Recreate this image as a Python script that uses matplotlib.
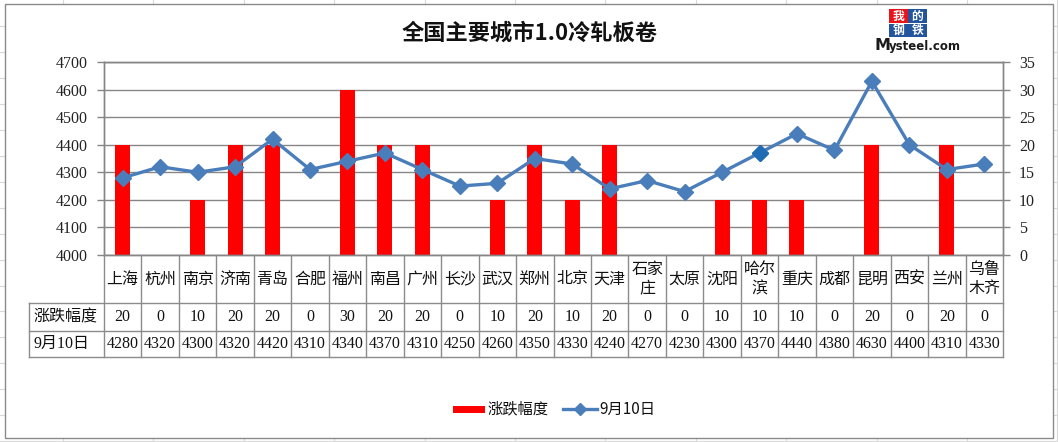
import matplotlib
matplotlib.use("Agg")
import matplotlib.pyplot as plt
from matplotlib.lines import Line2D
from matplotlib.patches import Rectangle
import numpy as np

# ---------------- data ----------------
cities = ["上海", "杭州", "南京", "济南", "青岛", "合肥", "福州", "南昌", "广州", "长沙",
          "武汉", "郑州", "北京", "天津", "石家庄", "太原", "沈阳", "哈尔滨", "重庆", "成都",
          "昆明", "西安", "兰州", "乌鲁木齐"]
change = [20, 0, 10, 20, 20, 0, 30, 20, 20, 0, 10, 20, 10, 20, 0, 0, 10, 10, 10, 0, 20, 0, 20, 0]
price = [4280, 4320, 4300, 4320, 4420, 4310, 4340, 4370, 4310, 4250, 4260, 4350, 4330, 4240,
         4270, 4230, 4300, 4370, 4440, 4380, 4630, 4400, 4310, 4330]
series_names = ["涨跌幅度", "9月10日"]
title = "全国主要城市1.0冷轧板卷"
left_ticks = [4000, 4100, 4200, 4300, 4400, 4500, 4600, 4700]
right_ticks = [0, 5, 10, 15, 20, 25, 30, 35]

# ---------------- layout helpers ----------------
W, H = 1058, 442
def fx(x): return x / W
def fy(y): return 1 - y / H

CJK = ["Noto Sans CJK SC", "DejaVu Sans"]
SERIF = ["Liberation Serif", "Noto Sans CJK SC"]
GRID = "#868686"
TBL = "#8c8c8c"
BLUE = "#4a7ebb"
RED = "#ff0000"

fig = plt.figure(figsize=(W / 100, H / 100), dpi=100)
fig.patch.set_facecolor("white")

# spreadsheet background grid
for k in range(0, 18):
    y = 26 + 25.95 * k
    fig.add_artist(Line2D([0, 1], [fy(y), fy(y)], color="#d9d9d9", lw=0.8, zorder=-3))
for k in range(0, 12):
    x = 63 + 90.4 * k
    fig.add_artist(Line2D([fx(x), fx(x)], [0, 1], color="#d9d9d9", lw=0.8, zorder=-3))
# chart area
fig.add_artist(Rectangle((fx(4.5), fy(438)), fx(1053) - fx(4.5), fy(4) - fy(438),
                         facecolor="white", edgecolor="#8a8a8a", lw=1.0, zorder=-2))

# plot area
L, R, T, B = 104, 1003, 62, 255
ax2 = fig.add_axes([fx(L), fy(B), fx(R) - fx(L), fy(T) - fy(B)])
ax = ax2.twinx()
ax.yaxis.tick_left()
ax.yaxis.set_label_position("left")
ax2.yaxis.tick_right()
ax2.yaxis.set_label_position("right")
ax.set_zorder(ax2.get_zorder() + 1)
ax.patch.set_visible(False)

x = np.arange(len(cities))
ax2.bar(x, change, width=0.4, color=RED, zorder=2)
ax2.set_ylim(0, 35)
ax2.set_yticks(right_ticks)
ax2.set_xlim(-0.5, len(cities) - 0.5)
ax2.yaxis.grid(True, color=GRID, lw=1.0, zorder=0)
ax2.set_axisbelow(True)

ax.plot(x, price, color=BLUE, lw=2.4, marker="D", markersize=8, zorder=3)
ax.plot(x[17], price[17], ls="none", marker="D", markersize=8, color="#1f6cb4", zorder=4)
ax.set_ylim(4000, 4700)
ax.set_yticks(left_ticks)
ax.set_xlim(-0.5, len(cities) - 0.5)

for a in (ax, ax2):
    a.set_xticks([])
    for s in a.spines.values():
        s.set_color(GRID)
        s.set_linewidth(1.0)
    a.tick_params(axis="y", colors=GRID, length=5, width=1.0, pad=6.5)
for lab in ax.get_yticklabels() + ax2.get_yticklabels():
    lab.set_fontfamily(SERIF)
    lab.set_fontsize(11.5)
    lab.set_color("#222222")

# ---------------- data table ----------------
n = len(cities)
cw = (R - L) / n
r0, r1, r2, r3 = 255, 303, 330.5, 357
hdr = 29
lk = dict(color=TBL, lw=1.0, zorder=3)
for i in range(n + 1):
    xx = L + i * cw
    fig.add_artist(Line2D([fx(xx), fx(xx)], [fy(r0), fy(r3)], **lk))
fig.add_artist(Line2D([fx(hdr), fx(hdr)], [fy(r1), fy(r3)], **lk))
for yy in (r1, r2, r3):
    fig.add_artist(Line2D([fx(hdr), fx(R)], [fy(yy), fy(yy)], **lk))

for i, c in enumerate(cities):
    cx = L + (i + 0.5) * cw
    lab = c if len(c) <= 2 else c[:2] + "\n" + c[2:]
    fig.text(fx(cx), fy((r0 + r1) / 2), lab, ha="center", va="center",
             fontfamily=CJK, fontsize=11.5, linespacing=1.2, color="#111111")
    fig.text(fx(cx), fy((r1 + r2) / 2), str(change[i]), ha="center", va="center",
             fontfamily=SERIF, fontsize=11.5, color="#111111")
    fig.text(fx(cx), fy((r2 + r3) / 2), str(price[i]), ha="center", va="center",
             fontfamily=SERIF, fontsize=11.5, color="#111111")
fig.text(fx(33), fy((r1 + r2) / 2), series_names[0], ha="left", va="center",
         fontfamily=CJK, fontsize=11.5, color="#111111")
fig.text(fx(33), fy((r2 + r3) / 2), series_names[1], ha="left", va="center",
         fontfamily=SERIF, fontsize=11.5, color="#111111")

# ---------------- title & logo ----------------
fig.text(fx(530), fy(33), title, ha="center", va="center", fontfamily=CJK,
         fontsize=16, fontweight="bold", color="#111111")

logo_chars = ["我", "的", "钢", "铁"]
logo_cols = ["#e8141c", "#23559f", "#23559f", "#23559f"]
for k, (ch, col) in enumerate(zip(logo_chars, logo_cols)):
    bx = 889 + (k % 2) * 19
    by = 9.5 + (k // 2) * 14
    fig.add_artist(Rectangle((fx(bx), fy(by + 13.5)), fx(18.5), 13.5 / H,
                             facecolor=col, edgecolor="none", zorder=3))
    fig.text(fx(bx + 9.25), fy(by + 6.75), ch, ha="center", va="center",
             fontfamily=CJK, fontsize=8.5, color="white", fontweight="bold")
fig.text(fx(875), fy(50), "M", ha="left", va="baseline",
         fontfamily="DejaVu Sans", fontsize=11.5, fontweight="bold", color="#1a1a1a")
fig.text(fx(889), fy(50), "ysteel.com", ha="left", va="baseline",
         fontfamily="DejaVu Sans", fontsize=8.5, fontweight="bold", color="#1a1a1a")

# ---------------- legend ----------------
ly = 409
fig.add_artist(Rectangle((fx(453), fy(ly + 3.5)), fx(32), 7 / H,
                         facecolor=RED, edgecolor="none", zorder=3))
fig.text(fx(488), fy(ly), series_names[0], ha="left", va="center",
         fontfamily=CJK, fontsize=11, color="#111111")
fig.add_artist(Line2D([fx(563), fx(597)], [fy(ly), fy(ly)], color=BLUE, lw=2.4,
                      zorder=3))
fig.add_artist(Line2D([fx(580)], [fy(ly)], color=BLUE, marker="D", markersize=6,
                      ls="none", zorder=4))
fig.text(fx(599), fy(ly), series_names[1], ha="left", va="center",
         fontfamily=CJK, fontsize=11, color="#111111")

fig.savefig("out.png", dpi=100, facecolor=fig.get_facecolor())
